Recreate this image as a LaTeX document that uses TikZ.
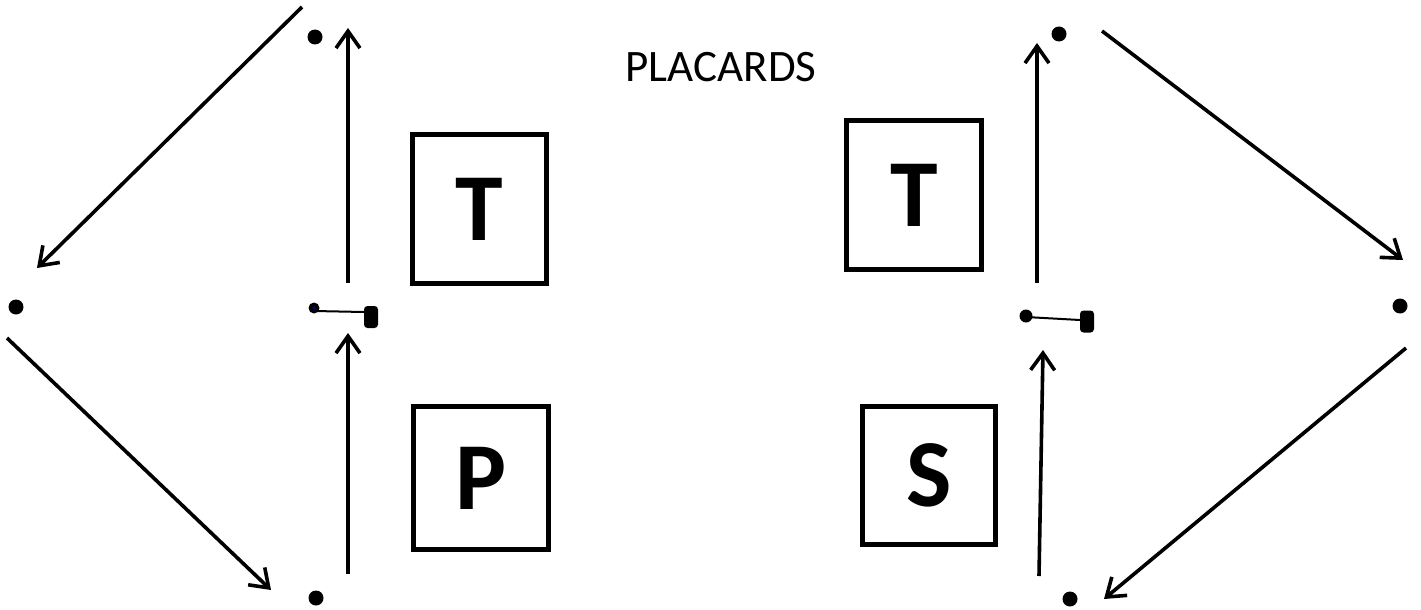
\documentclass[tikz,border=0pt]{standalone}
\usepackage{fontspec}
\setmainfont{Carlito}
\usetikzlibrary{arrows.meta}
\begin{document}
\begin{tikzpicture}[x=1pt,y=-1pt,
  dot/.style={circle,fill=black,inner sep=0pt,minimum size=15pt},
  sdot/.style={circle,fill=black,inner sep=0pt,minimum size=11pt},
  arr/.style={line width=3.6pt,-{Straight Barb[length=17pt,width=24pt,line width=3.6pt]}},
  plac/.style={draw,line width=5pt,inner sep=0pt,font=\fontsize{96}{96}\selectfont\bfseries},
  dev/.style={fill=black,rounded corners=3.5pt,inner sep=0pt,minimum width=14pt,minimum height=22pt}]
\useasboundingbox (0,0) rectangle (1421,610);
% dots
\node[dot] (lL) at (16,307) {};
\node[dot] (lT) at (315,37) {};
\node[dot] (lB) at (316,598) {};
\node[dot] (rR) at (1400,306) {};
\node[dot] (rT) at (1059,34) {};
\node[dot] (rB) at (1070,599) {};
% placards
\node[plac,minimum width=134pt,minimum height=149pt] (TL) at (479.5,209) {T};
\node[plac,minimum width=135pt,minimum height=143pt] (PL) at (481,478) {P};
\node[plac,minimum width=135pt,minimum height=149pt] (TR) at (914,195) {T};
\node[plac,minimum width=133pt,minimum height=138pt] (SR) at (929,475.5) {S};
\node[font=\fontsize{45}{45}\selectfont] (title) at (721,67) {PLACARDS};
% devices
\node[sdot] (dl) at (314,308) {};
\fill[blue!70!black] (dl) circle (1.5pt);
\node[dev] (ml) at (371,317) {};
\draw[line width=2pt] (dl.center |- 0,311) -- (ml.west |- 0,312);
\node[sdot,minimum size=13pt] (dr) at (1026,316) {};
\node[dev] (mr) at (1087,321.5) {};
\draw[line width=2pt] (dr.center |- 0,317) -- (mr.west |- 0,320);
% arrow ends
\coordinate (a1s) at (302,7);   \coordinate (a1e) at (37,268);
\coordinate (a2s) at (7,338);   \coordinate (a2e) at (271,590);
\coordinate (a3s) at (348,283); \coordinate (a3e) at (348,28);
\coordinate (a4s) at (348,574); \coordinate (a4e) at (348,333);
\coordinate (b1s) at (1102,31); \coordinate (b1e) at (1403,260);
\coordinate (b2s) at (1406,348);\coordinate (b2e) at (1104,599);
\coordinate (b3s) at (1037,283);\coordinate (b3e) at (1037,43);
\coordinate (b4s) at (1039,576);\coordinate (b4e) at (1043,350);
\foreach \p in {a1,a2,a3,a4,b1,b2,b3,b4}
  \draw[arr] (\p s) -- (\p e);
\end{tikzpicture}
\end{document}
